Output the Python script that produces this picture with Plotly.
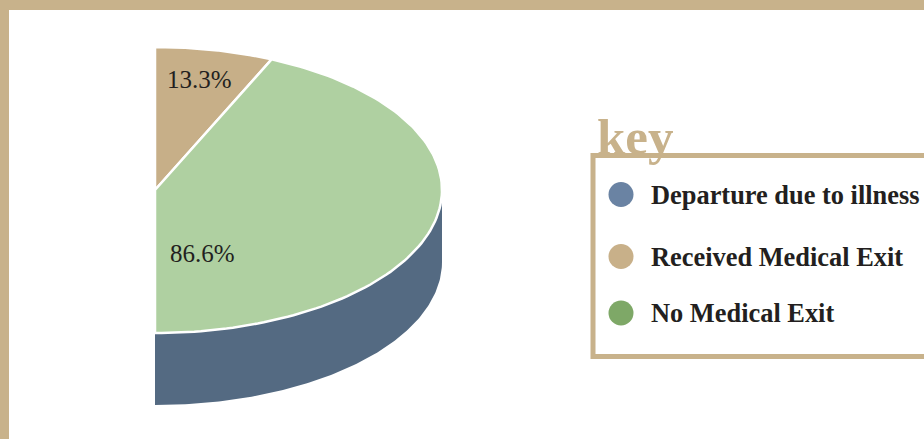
import numpy as np
import plotly.graph_objects as go

# Legend categories and their colours
categories = ["Departure due to illness", "Received Medical Exit", "No Medical Exit"]
legend_colors = ["#6a83a3", "#c8b089", "#7ea867"]

# Slice shares (percent) of the half disc
slice_labels = ["Received Medical Exit", "No Medical Exit"]
slice_values = [13.3, 86.6]
slice_colors = ["#c7af88", "#afd0a1"]
side_color = "#546a82"

frame_color = "#c8b28b"
text_color = "#231f20"
W, H = 924, 439
SERIF = "Liberation Serif, Times New Roman, serif"

# Geometry of the tilted half disc (pixel space)
CX, CY = 155.0, 190.0
RX, RY = 287.0, 143.0
DEPTH = 72.0
SPAN = 180.0  # the half disc spans 180 degrees, clockwise from 12 o'clock


def arc(t0, t1, dy=0.0, n=120):
    t = np.radians(np.linspace(t0, t1, n))
    return CX + RX * np.sin(t), CY - RY * np.cos(t) + dy


fig = go.Figure()

# Side wall: lower rim between 90 and 180 degrees
xs_top, ys_top = arc(90, 180)
xs_bot, ys_bot = arc(180, 90, dy=DEPTH)
fig.add_trace(go.Scatter(
    x=np.concatenate([xs_top, xs_bot]), y=np.concatenate([ys_top, ys_bot]),
    fill="toself", fillcolor=side_color, mode="lines",
    line=dict(width=0, color=side_color), hoverinfo="skip", showlegend=False))

# Top face slices
total = sum(slice_values)
start = 0.0
for name, val, col in zip(slice_labels, slice_values, slice_colors):
    end = start + val / total * SPAN
    ax, ay = arc(start, end)
    fig.add_trace(go.Scatter(
        x=np.concatenate([[CX], ax, [CX]]), y=np.concatenate([[CY], ay, [CY]]),
        fill="toself", fillcolor=col, mode="lines",
        line=dict(width=2.5, color="white"), hoverinfo="skip", showlegend=False,
        name=name))
    start = end

# Percentage labels
label_pos = [(165, 79), (168, 253)]
for val, (lx, ly) in zip(slice_values, label_pos):
    fig.add_annotation(x=lx, y=ly, text=f"{val}%", showarrow=False,
                       xanchor="left", yanchor="middle",
                       font=dict(family=SERIF, size=25, color=text_color))

# Legend markers and text
item_y = [194.5, 256.5, 313]
fig.add_trace(go.Scatter(
    x=[621] * len(categories), y=item_y, mode="markers",
    marker=dict(size=25, color=legend_colors, line=dict(width=0)),
    hoverinfo="skip", showlegend=False))
for cat, yy in zip(categories, item_y):
    fig.add_annotation(x=649, y=yy, text=f"<b>{cat}</b>", showarrow=False,
                       xanchor="left", yanchor="middle",
                       font=dict(family=SERIF, size=26.4, color=text_color))

shapes = [
    # outer frame bands
    dict(type="rect", x0=0, x1=W, y0=0, y1=10, fillcolor=frame_color, line=dict(width=0), layer="below"),
    dict(type="rect", x0=0, x1=9, y0=0, y1=H, fillcolor=frame_color, line=dict(width=0), layer="below"),
    # legend box
    dict(type="rect", x0=593, x1=W + 20, y0=155.5, y1=356.5, fillcolor="rgba(0,0,0,0)",
         line=dict(width=5, color=frame_color), layer="above"),
]

fig.add_annotation(x=595, y=137, text="<b>key</b>", showarrow=False,
                   xanchor="left", yanchor="middle",
                   font=dict(family=SERIF, size=51, color=frame_color))

fig.update_layout(
    width=W, height=H, margin=dict(l=0, r=0, t=0, b=0),
    paper_bgcolor="white", plot_bgcolor="white", shapes=shapes,
    xaxis=dict(range=[0, W], visible=False, fixedrange=True),
    yaxis=dict(range=[H, 0], visible=False, fixedrange=True),
    showlegend=False,
)

fig.write_html("out.html", config={"displayModeBar": False})
